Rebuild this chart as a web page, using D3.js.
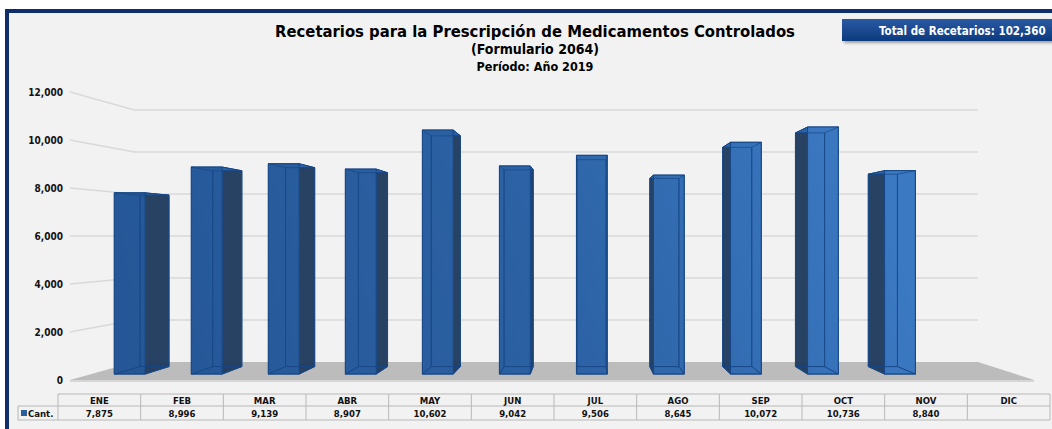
<!DOCTYPE html>
<html>
<head>
<meta charset="utf-8">
<script src="https://d3js.org/d3.v7.min.js"></script>
<style>
  html, body { margin: 0; padding: 0; background: #ffffff; }
  svg { display: block; }
  text { font-family: 'DejaVu Sans Condensed', 'DejaVu Sans', sans-serif; font-stretch: condensed; font-weight: bold; }
</style>
</head>
<body>
<div id="chart"></div>
<script>
/* ---------- data ---------- */
const months = ['ENE', 'FEB', 'MAR', 'ABR', 'MAY', 'JUN', 'JUL', 'AGO', 'SEP', 'OCT', 'NOV', 'DIC'];
const values = [7875, 8996, 9139, 8907, 10602, 9042, 9506, 8645, 10072, 10736, 8840, null];
const yTicks = [0, 2000, 4000, 6000, 8000, 10000, 12000];
const seriesName = 'Cant.';
const titleLines = [
  'Recetarios para la Prescripción de Medicamentos Controlados',
  '(Formulario 2064)',
  'Período: Año 2019'
];

/* ---------- layout ---------- */
const W = 1052, H = 429;
const VX = 585, VY = 236;      // vanishing point of the 3D view
const K = 1 / 7;               // depth shrink: back wall is 0.875 of front
const Z0 = 0.3, Z1 = 0.72;     // bar depth range

const fmt = d3.format(',');

const svg = d3.select('#chart').append('svg')
  .attr('width', W).attr('height', H);

const defs = svg.append('defs');

const fg = defs.append('linearGradient')
  .attr('id', 'frontGrad')
  .attr('gradientUnits', 'userSpaceOnUse')
  .attr('x1', 150).attr('y1', 380).attr('x2', 850).attr('y2', 120);
fg.append('stop').attr('offset', 0).attr('stop-color', '#255797');
fg.append('stop').attr('offset', 0.5).attr('stop-color', '#2b60a2');
fg.append('stop').attr('offset', 1).attr('stop-color', '#3b79c2');

const bg = defs.append('linearGradient')
  .attr('id', 'boxGrad').attr('x1', 0).attr('y1', 0).attr('x2', 0).attr('y2', 1);
bg.append('stop').attr('offset', 0).attr('stop-color', '#2a5aa3');
bg.append('stop').attr('offset', 1).attr('stop-color', '#0c3a7e');

defs.append('filter').attr('id', 'shadow')
  .attr('x', -0.1).attr('y', -0.3).attr('width', 1.3).attr('height', 1.8)
  .append('feDropShadow')
  .attr('dx', 2).attr('dy', 2).attr('stdDeviation', 1.5)
  .attr('flood-color', '#000').attr('flood-opacity', 0.35);

/* chart area background + frame */
svg.append('rect')
  .attr('x', 7).attr('y', 11).attr('width', W + 20).attr('height', H + 20)
  .attr('fill', '#f2f2f2')
  .attr('stroke', '#0f2d6a').attr('stroke-width', 4);

/* ---------- scales ---------- */
const x = d3.scaleBand().domain(months).range([70, 1034])
  .paddingInner(0.6).paddingOuter(0.3);
const y = d3.scaleLinear().domain([0, 12000]).range([380, 92]);

function proj(X, Y, z) {
  const s = 1 / (1 + K * z);
  return [VX + (X - VX) * s, VY + (Y - VY) * s];
}
const poly = pts => pts.map(p => proj(p[0], p[1], p[2]).join(',')).join(' ');

const xL = x.range()[0], xR = x.range()[1];

/* ---------- walls ---------- */
const grid = svg.append('g').attr('class', 'grid');
yTicks.filter(v => v > 0).forEach(v => {
  const a = proj(xL, y(v), 0), b = proj(xL, y(v), 1), c = proj(xR, y(v), 1);
  grid.append('polyline')
    .attr('points', [a, b, c].map(p => p.join(',')).join(' '))
    .attr('fill', 'none').attr('stroke', '#d9d9d9').attr('stroke-width', 1.3);
});

/* floor */
svg.append('polygon')
  .attr('points', poly([[xL, y(0), 0], [xR, y(0), 0], [xR, y(0), 1], [xL, y(0), 1]]))
  .attr('fill', '#bcbcbc');
svg.append('line')
  .attr('x1', xL).attr('x2', xR).attr('y1', y(0) + 1).attr('y2', y(0) + 1)
  .attr('stroke', '#d6d6d6').attr('stroke-width', 2);

/* y axis labels */
svg.append('g').selectAll('text').data(yTicks).join('text')
  .attr('x', 63).attr('y', d => y(d) + 3.5)
  .attr('text-anchor', 'end').attr('font-size', 10).attr('fill', '#111')
  .text(d => fmt(d));

/* ---------- bars ---------- */
const bars = svg.append('g').attr('class', 'bars');
months.forEach((m, i) => {
  const v = values[i];
  if (v == null) return;
  const x0 = x(m), x1 = x0 + x.bandwidth();
  const yb = y(0), yt = y(v);
  const g = bars.append('g');
  const edge = '#174786';

  const back   = [[x0, yb, Z1], [x1, yb, Z1], [x1, yt, Z1], [x0, yt, Z1]];
  const left   = [[x0, yb, Z0], [x0, yb, Z1], [x0, yt, Z1], [x0, yt, Z0]];
  const right  = [[x1, yb, Z0], [x1, yb, Z1], [x1, yt, Z1], [x1, yt, Z0]];
  const bottom = [[x0, yb, Z0], [x1, yb, Z0], [x1, yb, Z1], [x0, yb, Z1]];
  const top    = [[x0, yt, Z0], [x1, yt, Z0], [x1, yt, Z1], [x0, yt, Z1]];
  const front  = [[x0, yb, Z0], [x1, yb, Z0], [x1, yt, Z0], [x0, yt, Z0]];

  const showRight = x1 < VX, showLeft = x0 > VX;

  if (showRight || showLeft) {
    g.append('polygon').attr('points', poly(showRight ? right : left))
      .attr('fill', '#1f3a5e').attr('fill-opacity', 0.96)
      .attr('stroke', edge).attr('stroke-width', 1);
  }
  g.append('polygon').attr('points', poly(top))
    .attr('fill', '#2c62a6')
    .attr('stroke', edge).attr('stroke-width', 1);
  g.append('polygon').attr('points', poly(front))
    .attr('fill', 'url(#frontGrad)')
    .attr('stroke', edge).attr('stroke-width', 1);

  // hidden edges seen through the glassy bars
  [back, bottom].concat(showRight ? [left] : showLeft ? [right] : [left, right]).forEach(f => {
    g.append('polygon').attr('points', poly(f))
      .attr('fill', 'none').attr('stroke', edge).attr('stroke-opacity', 0.7).attr('stroke-width', 1);
  });
});

/* ---------- titles ---------- */
const tx = 535;
svg.append('text').attr('x', tx).attr('y', 37).attr('text-anchor', 'middle')
  .attr('font-size', 16.5).attr('fill', '#000').text(titleLines[0]);
svg.append('text').attr('x', tx).attr('y', 54).attr('text-anchor', 'middle')
  .attr('font-size', 14).attr('fill', '#000').text(titleLines[1]);
svg.append('text').attr('x', tx).attr('y', 71).attr('text-anchor', 'middle')
  .attr('font-size', 12.5).attr('fill', '#000').text(titleLines[2]);

/* total box */
svg.append('rect')
  .attr('x', 842).attr('y', 19).attr('width', 230).attr('height', 22)
  .attr('fill', 'url(#boxGrad)').attr('filter', 'url(#shadow)');
svg.append('text').attr('x', 879).attr('y', 34.5)
  .attr('font-size', 11.5).attr('fill', '#ffffff')
  .text('Total de Recetarios: ' + fmt(d3.sum(values)));

/* ---------- data table ---------- */
const col = d3.scaleBand().domain(months).range([58, 1050]);
const rowTop = 394, rowMid = 406, rowBot = 420;
const tbl = svg.append('g').attr('class', 'table');
const line = (x1, y1, x2, y2) => tbl.append('line')
  .attr('x1', x1).attr('y1', y1).attr('x2', x2).attr('y2', y2)
  .attr('stroke', '#b8b8b8').attr('stroke-width', 1);

line(58, rowTop, 1050, rowTop);
line(18, rowMid, 1050, rowMid);
line(18, rowBot, 1050, rowBot);
line(18, rowMid, 18, rowBot);
months.forEach(m => line(col(m), rowTop, col(m), rowBot));
line(1050, rowTop, 1050, rowBot);

tbl.selectAll('text.hd').data(months).join('text').attr('class', 'hd')
  .attr('x', d => col(d) + col.bandwidth() / 2).attr('y', 403.5)
  .attr('text-anchor', 'middle').attr('font-size', 9.5).attr('fill', '#111')
  .text(d => d);
tbl.selectAll('text.val').data(values).join('text').attr('class', 'val')
  .attr('x', (d, i) => col(months[i]) + col.bandwidth() / 2).attr('y', 417)
  .attr('text-anchor', 'middle').attr('font-size', 9.5).attr('fill', '#111')
  .text(d => d == null ? '' : fmt(d));

tbl.append('rect').attr('x', 21).attr('y', 410).attr('width', 6).attr('height', 6)
  .attr('fill', '#2a5f9f');
tbl.append('text').attr('x', 28).attr('y', 417).attr('font-size', 9.5).attr('fill', '#111')
  .text(seriesName);
</script>
</body>
</html>
